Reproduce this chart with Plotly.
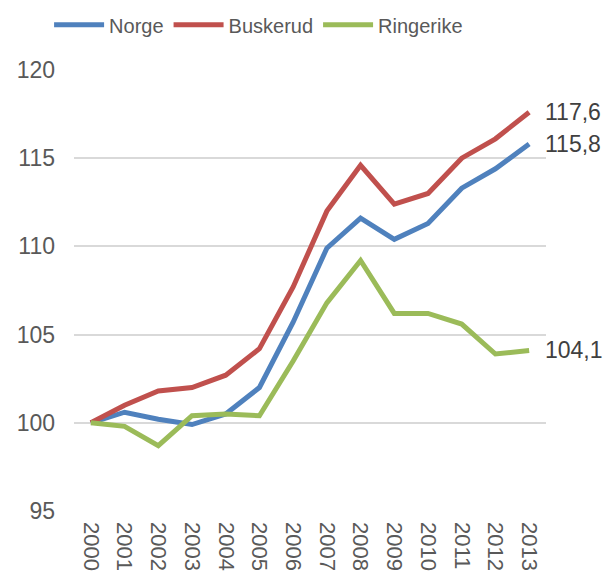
import plotly.graph_objects as go

years = list(range(2000, 2014))
norge = [100.0, 100.6, 100.2, 99.9, 100.5, 102.0, 105.7, 109.9, 111.6, 110.4, 111.3, 113.3, 114.4, 115.8]
buskerud = [100.0, 101.0, 101.8, 102.0, 102.7, 104.2, 107.7, 112.0, 114.6, 112.4, 113.0, 115.0, 116.1, 117.6]
ringerike = [100.0, 99.8, 98.7, 100.4, 100.5, 100.4, 103.5, 106.8, 109.2, 106.2, 106.2, 105.6, 103.9, 104.1]
end_labels = ["115,8", "117,6", "104,1"]
y_ticks = [95, 100, 105, 110, 115, 120]

series = [("Norge", norge, "#4F81BD"), ("Buskerud", buskerud, "#C0504D"), ("Ringerike", ringerike, "#9BBB59")]

fig = go.Figure()
for name, vals, col in series:
    fig.add_trace(go.Scatter(x=years, y=vals, name=name, mode="lines",
                             line=dict(color=col, width=5)))

for (name, vals, col), lab in zip(series, end_labels):
    fig.add_annotation(x=years[-1], y=vals[-1], text=lab, showarrow=False,
                       xanchor="left", yanchor="middle", xshift=14,
                       font=dict(size=23, color="#404040"))

fig.update_layout(
    width=606, height=577,
    margin=dict(l=74, r=60, t=70, b=66, autoexpand=False),
    paper_bgcolor="white", plot_bgcolor="white",
    font=dict(family="Liberation Sans, Arial, sans-serif", size=20, color="#595959"),
    showlegend=True,
    legend=dict(orientation="h", xref="container", yref="container",
                x=0.081, xanchor="left", y=0.957, yanchor="middle",
                font=dict(size=20, color="#595959"), itemwidth=50,
                tracegroupgap=0, bgcolor="rgba(0,0,0,0)"),
    xaxis=dict(range=[1999.5, 2013.5], tickmode="array", tickvals=years,
               ticktext=[str(y) for y in years], tickangle=90, showgrid=False,
               showline=False, zeroline=False, ticks="", ticklabelstandoff=10,
               tickfont=dict(size=22, color="#595959")),
    yaxis=dict(range=[95, 120], tickmode="array", tickvals=y_ticks, showgrid=True,
               gridcolor="#D9D9D9", gridwidth=1.5,
               zeroline=False, showline=False, ticks="", ticklabelstandoff=18,
               tickfont=dict(size=23, color="#595959")),
)

fig.write_html("out.html", config={"displayModeBar": False},
               post_script="document.body.style.margin='0';document.body.style.overflow='hidden';")
